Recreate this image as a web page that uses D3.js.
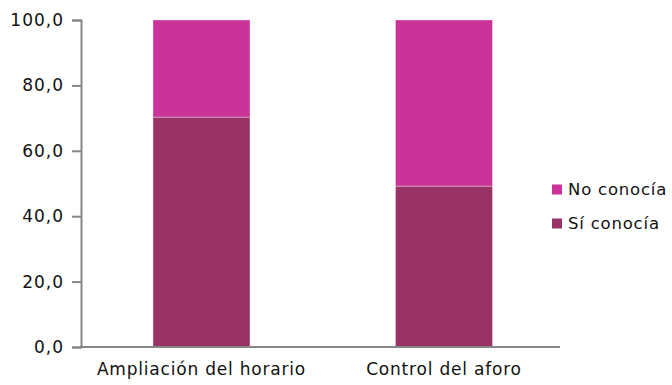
<!DOCTYPE html>
<html>
<head>
<meta charset="utf-8">
<script src="https://cdn.jsdelivr.net/npm/d3@7"></script>
<style>
  html, body { margin: 0; padding: 0; background: #fff; }
  svg text { font-family: "DejaVu Sans", Verdana, sans-serif; fill: #111; }
</style>
</head>
<body>
<svg id="chart" width="672" height="385"></svg>
<script>
// Categories and stacked shares (%)
const categories = ["Ampliación del horario", "Control del aforo"];
const siConocia = [70.3, 49.2];
const noConocia = [29.7, 50.8];
const seriesNames = ["Sí conocía", "No conocía"];
const seriesColors = ["#993366", "#CC3399"];
const yTicks = [0, 20, 40, 60, 80, 100];

const svg = d3.select("#chart");
const margin = { left: 81, right: 560, top: 20, bottom: 347 };

const x = d3.scaleBand().domain(categories).range([margin.left, margin.right])
  .paddingInner(0.6).paddingOuter(0.2876).align(0.516);
const y = d3.scaleLinear().domain([0, 100]).range([margin.bottom, margin.top]);

const rows = categories.map((c, i) => ({ cat: c, si: siConocia[i], no: noConocia[i] }));
const layers = d3.stack().keys(["si", "no"])(rows);

// Stacked bars
svg.append("g").selectAll("g")
  .data(layers)
  .join("g")
  .attr("fill", (d, i) => seriesColors[i])
  .selectAll("rect")
  .data(d => d)
  .join("rect")
  .attr("x", d => x(d.data.cat))
  .attr("width", x.bandwidth())
  .attr("y", d => y(d[1]))
  .attr("height", d => y(d[0]) - y(d[1]))
  .attr("stroke", "rgba(255,255,255,0.35)")
  .attr("stroke-width", 1);

// Y axis
const yAxis = svg.append("g")
  .attr("transform", `translate(${margin.left},0)`)
  .call(d3.axisLeft(y).tickValues(yTicks).tickSize(9).tickPadding(8)
    .tickFormat(d => d3.format(".1f")(d).replace(".", ",")));
yAxis.select(".domain").attr("stroke", "#868686").attr("stroke-width", 2);
yAxis.selectAll(".tick line").attr("stroke", "#868686").attr("stroke-width", 2);
yAxis.selectAll(".tick text").attr("font-size", 17).attr("letter-spacing", 1).attr("fill", "#111");

// X axis
const xAxis = svg.append("g")
  .attr("transform", `translate(0,${margin.bottom})`)
  .call(d3.axisBottom(x).tickSize(0).tickPadding(16));
xAxis.select(".domain").attr("stroke", "#868686").attr("stroke-width", 2)
  .attr("d", `M${margin.left - 1},0H${margin.right}`);
xAxis.selectAll(".tick text").attr("font-size", 17).attr("letter-spacing", 0.8).attr("fill", "#111");

// Legend
const legendItems = [
  { name: seriesNames[1], color: seriesColors[1], y: 189.5 },
  { name: seriesNames[0], color: seriesColors[0], y: 223.5 }
];
const legend = svg.append("g");
legend.selectAll("rect").data(legendItems).join("rect")
  .attr("x", 552).attr("y", d => d.y - 5).attr("width", 10).attr("height", 10)
  .attr("fill", d => d.color);
legend.selectAll("text").data(legendItems).join("text")
  .attr("x", 568).attr("y", d => d.y).attr("dy", "0.36em")
  .attr("font-size", 16.5).attr("letter-spacing", 0.8)
  .text(d => d.name);
</script>
</body>
</html>
